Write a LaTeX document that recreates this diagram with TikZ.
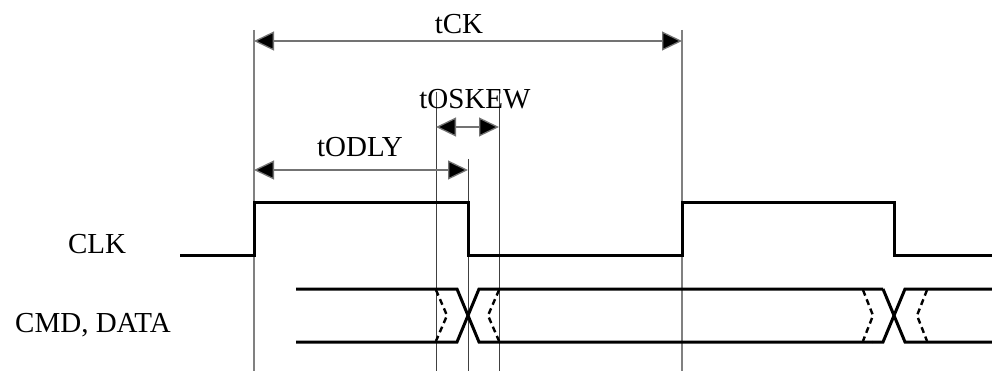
\documentclass[tikz,border=0pt]{standalone}
\usepackage{fontspec}
\setmainfont{Liberation Serif}
\usetikzlibrary{arrows.meta}
\begin{document}
\begin{tikzpicture}[x=1pt,y=-1pt,
  sig/.style={line width=3pt,line join=miter},
  guide/.style={line width=1.4pt,draw=black!50},
  guidek/.style={line width=1pt,draw=black!75},
  dim/.style={line width=1.3pt,draw=black!55,{Triangle[length=20pt,width=19pt,fill=black]}-{Triangle[length=20pt,width=19pt,fill=black]}},
  lbl/.style={font=\fontsize{29}{30}\selectfont,inner sep=0pt,anchor=base},
  skew/.style={line width=2.4pt,dash pattern=on 6pt off 4pt}]
\useasboundingbox (0,0) rectangle (992,371);
% guide coordinates
\coordinate (a0) at (254,30);  \coordinate (a1) at (254,371);
\coordinate (b0) at (682,30);  \coordinate (b1) at (682,371);
\coordinate (c0) at (468,159); \coordinate (c1) at (468,371);
\coordinate (d0) at (436,92);  \coordinate (d1) at (436,371);
\coordinate (e0) at (499,92);  \coordinate (e1) at (499,371);
\draw[guide] (a0) -- (a1);
\draw[guide] (b0) -- (b1);
\draw[guidek] (c0) -- (c1);
\draw[guidek] (d0) -- (d1);
\draw[guidek] (e0) -- (e1);
% dimension arrows
\coordinate (tckL) at (254,41); \coordinate (tckR) at (682,41);
\draw[dim] (tckL) -- (tckR);
\coordinate (skL) at (436,127); \coordinate (skR) at (499,127);
\draw[dim] (skL) -- (skR);
\coordinate (odL) at (254,170); \coordinate (odR) at (468,170);
\draw[dim] (odL) -- (odR);
% labels
\node[lbl] (tck) at (459,34) {tCK};
\node[lbl] (tosk) at (475,109) {tOSKEW};
\node[lbl] (todly) at (360,157) {tODLY};
\node[lbl] (clk) at (97,254) {CLK};
\node[lbl] (cmd) at (93,332) {CMD, DATA};
% CLK waveform
\draw[sig] (180,255) -- (254,255) -- (254,203) -- (468,203) -- (468,255) -- (682,255) -- (682,203) -- (894,203) -- (894,255) -- (992,255);
% data bus
\draw[sig] (296,289) -- (457,289) -- (479,342) -- (872,342);
\draw[sig] (296,342) -- (457,342) -- (479,289) -- (883,289);
\draw[sig] (883,289) -- (905,342) -- (992,342);
\draw[sig] (872,342) -- (883,342) -- (905,289) -- (992,289);
% skew dashes
\draw[skew] (436,290) -- (447,315.5) -- (436,341);
\draw[skew] (499,290) -- (488,315.5) -- (499,341);
\draw[skew] (863,290) -- (873,315.5) -- (863,341);
\draw[skew] (927,290) -- (917,315.5) -- (927,341);
\end{tikzpicture}
\end{document}
